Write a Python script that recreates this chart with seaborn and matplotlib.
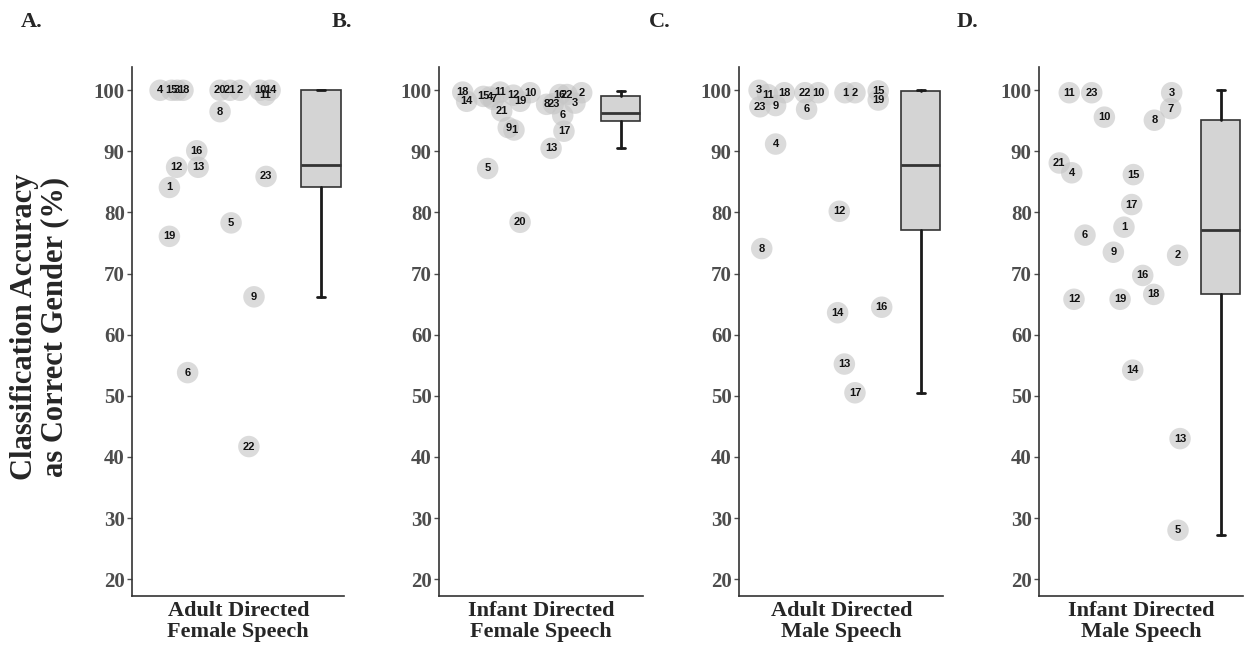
import numpy as np
import pandas as pd
import matplotlib
matplotlib.use('Agg')
import matplotlib.pyplot as plt
import seaborn as sns

# participant ids, horizontal jitter (axes fraction) and accuracy (%) per panel
a_ids = [4, 15, 3, 18, 20, 21, 2, 10, 14, 11, 8, 16, 12, 13, 1, 23, 5, 19, 9, 6, 22]
a_x = [0.131, 0.186, 0.212, 0.239, 0.414, 0.461, 0.508, 0.603, 0.650, 0.627, 0.414,
       0.304, 0.209, 0.311, 0.175, 0.631, 0.466, 0.175, 0.574, 0.261, 0.550]
a_acc = [100, 100, 100, 100, 100, 100, 100, 100, 100, 99.2, 96.5, 90.1, 87.4, 87.4,
         84.1, 85.9, 78.3, 76.1, 66.2, 53.8, 41.7]

b_ids = [18, 14, 15, 4, 7, 11, 12, 19, 10, 21, 9, 1, 8, 23, 16, 22, 3, 2, 6, 17, 13, 5, 20]
b_x = [0.115, 0.134, 0.216, 0.249, 0.265, 0.298, 0.363, 0.396, 0.445, 0.306, 0.338,
       0.366, 0.526, 0.559, 0.591, 0.626, 0.665, 0.698, 0.605, 0.611, 0.548, 0.237, 0.396]
b_acc = [99.7, 98.2, 99.0, 98.9, 98.5, 99.7, 99.2, 98.2, 99.6, 96.6, 93.9, 93.5,
         97.7, 97.8, 99.3, 99.3, 97.9, 99.6, 95.9, 93.3, 90.5, 87.2, 78.4]

c_ids = [3, 11, 18, 23, 9, 22, 10, 6, 1, 2, 15, 19, 4, 12, 8, 14, 16, 13, 17]
c_x = [0.097, 0.139, 0.221, 0.101, 0.178, 0.322, 0.387, 0.330, 0.518, 0.567, 0.681,
       0.681, 0.178, 0.490, 0.110, 0.482, 0.698, 0.515, 0.567]
c_acc = [100, 99.3, 99.6, 97.3, 97.5, 99.6, 99.6, 96.9, 99.6, 99.6, 99.9, 98.4,
         91.2, 80.2, 74.1, 63.6, 64.5, 55.2, 50.5]

d_ids = [11, 23, 10, 3, 7, 8, 21, 4, 15, 17, 1, 6, 9, 2, 16, 18, 12, 19, 14, 13, 5]
d_x = [0.147, 0.257, 0.319, 0.649, 0.644, 0.564, 0.098, 0.159, 0.461, 0.453, 0.415,
       0.224, 0.363, 0.678, 0.507, 0.561, 0.170, 0.396, 0.458, 0.690, 0.680]
d_acc = [99.6, 99.6, 95.6, 99.6, 97.0, 95.1, 88.1, 86.5, 86.2, 81.3, 77.6, 76.3,
         73.5, 73.0, 69.7, 66.6, 65.8, 65.8, 54.2, 43.0, 28.0]

# box summaries: whisker low, q1, median, q3, whisker high
box_lo = [66.2, 90.5, 50.5, 27.2]
box_q1 = [84.2, 94.9, 77.2, 66.6]
box_med = [87.8, 96.3, 87.7, 77.2]
box_q3 = [100, 99.0, 99.8, 95.2]
box_hi = [100, 99.8, 100, 100]

panel_letters = ['A.', 'B.', 'C.', 'D.']
conditions = ['Adult Directed\nFemale Speech', 'Infant Directed\nFemale Speech',
              'Adult Directed\nMale Speech', 'Infant Directed\nMale Speech']

sns.set_style('white')
plt.rcParams['font.family'] = ['Liberation Serif', 'DejaVu Serif']

fig = plt.figure(figsize=(12.44, 6.51), dpi=100)

lefts = [132.3, 439.3, 739.3, 1039.3]
widths = [212, 204, 204, 204]
letter_x = [21, 332, 649, 957]

all_ids = [a_ids, b_ids, c_ids, d_ids]
all_x = [a_x, b_x, c_x, d_x]
all_acc = [a_acc, b_acc, c_acc, d_acc]

for i in range(4):
    ax = fig.add_axes([lefts[i] / 1244, 0.085, widths[i] / 1244, 0.812])
    df = pd.DataFrame({'id': all_ids[i], 'x': all_x[i], 'acc': all_acc[i]})

    stats = [dict(med=box_med[i], q1=box_q1[i], q3=box_q3[i],
                  whislo=box_lo[i], whishi=box_hi[i], fliers=[])]
    ax.bxp(stats, positions=[0.89], widths=[0.19], capwidths=[0.04],
           patch_artist=True, showfliers=False, manage_ticks=False,
           boxprops=dict(facecolor='#d4d4d4', edgecolor='#333333', linewidth=1.2),
           medianprops=dict(color='#333333', linewidth=2),
           whiskerprops=dict(color='#1a1a1a', linewidth=2),
           capprops=dict(color='#1a1a1a', linewidth=2))

    sns.scatterplot(data=df, x='x', y='acc', s=240, color='#c4c4c4', alpha=0.6,
                    edgecolor='none', ax=ax, zorder=3)
    for _, row in df.iterrows():
        ax.text(row['x'], row['acc'], str(int(row['id'])), ha='center', va='center',
                fontsize=8, fontweight='bold', family='Liberation Sans',
                color='#111111', zorder=4)

    ax.set_xlim(0, 1)
    ax.set_ylim(17.3, 103.8)
    ax.set_xticks([])
    ax.set_yticks(range(20, 101, 10))
    ax.set_yticklabels([str(v) for v in range(20, 101, 10)], fontsize=15,
                       fontweight='bold', color='#4d4d4d')
    ax.tick_params(axis='y', left=True, length=3.5, width=1, color='#4d4d4d', pad=2)
    ax.set_ylabel('')
    ax.set_xlabel(conditions[i], fontsize=16, fontweight='bold', labelpad=4,
                  linespacing=1.05)
    for side in ['top', 'right']:
        ax.spines[side].set_visible(False)
    for side in ['left', 'bottom']:
        ax.spines[side].set_color('#333333')
        ax.spines[side].set_linewidth(1.2)

    fig.text(letter_x[i] / 1244, 1 - 27 / 651, panel_letters[i], fontsize=16,
             fontweight='bold')

fig.text(40 / 1244, 0.498, 'Classification Accuracy\nas Correct Gender (%)',
         rotation=90, ha='center', va='center', fontsize=22, fontweight='bold',
         multialignment='center', linespacing=1.05)

fig.savefig('out.png', dpi=100)
